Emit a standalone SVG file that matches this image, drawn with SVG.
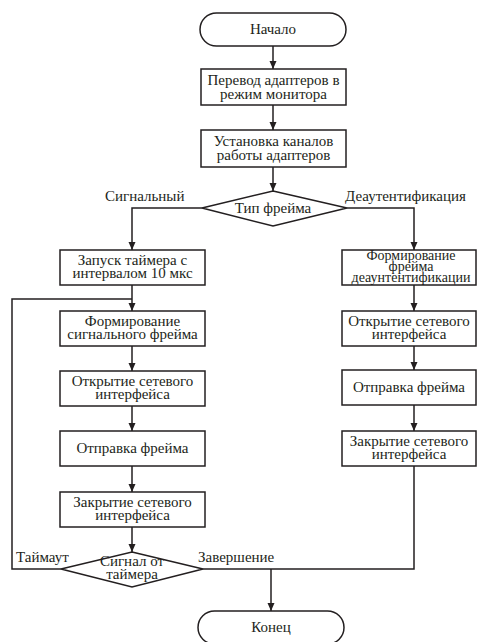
<svg xmlns="http://www.w3.org/2000/svg" width="477" height="642" viewBox="0 0 477 642">
<style>
.s{fill:#fff;stroke:#231f20;stroke-width:1.5}
.c{fill:none;stroke:#231f20;stroke-width:1.5}
text{font-family:"Liberation Serif","DejaVu Serif",serif;font-size:15px;fill:#231f20}
.m{text-anchor:middle}
.t{font-size:14px}
</style>
<defs>
<marker id="a" markerUnits="userSpaceOnUse" markerWidth="8" markerHeight="8" refX="8" refY="4" orient="auto">
<path d="M0,0.5 L8,4 L0,7.5 z" fill="#231f20"/>
</marker>
</defs>
<rect width="477" height="642" fill="#fff"/>
<g id="connectors">
<path class="c" d="M273,46 V69" marker-end="url(#a)"/>
<path class="c" d="M273,105 V130" marker-end="url(#a)"/>
<path class="c" d="M273,167 V191" marker-end="url(#a)"/>
<path class="c" d="M202,208 H132 V250" marker-end="url(#a)"/>
<path class="c" d="M347,208 H414 V250" marker-end="url(#a)"/>
<path class="c" d="M132,285 V311" marker-end="url(#a)"/>
<path class="c" d="M61,569 H12 V299 H132"/>
<path class="c" d="M132,346 V371" marker-end="url(#a)"/>
<path class="c" d="M132,406 V431" marker-end="url(#a)"/>
<path class="c" d="M132,466 V492" marker-end="url(#a)"/>
<path class="c" d="M132,527 V552" marker-end="url(#a)"/>
<path class="c" d="M414,285 V311" marker-end="url(#a)"/>
<path class="c" d="M414,346 V370" marker-end="url(#a)"/>
<path class="c" d="M414,405 V431" marker-end="url(#a)"/>
<path class="c" d="M414,466 V569 H203"/>
<path class="c" d="M271,569 V611" marker-end="url(#a)"/>
<text x="105" y="201">Сигнальный</text>
<text x="345" y="201">Деаутентификация</text>
<text x="16" y="562">Таймаут</text>
<text x="198" y="562">Завершение</text>
</g>
<g id="start">
<rect class="s" x="200" y="13" width="146" height="33" rx="16.5"/>
<text class="m" x="273" y="34">Начало</text>
</g>
<g id="monitor">
<rect class="s" x="201" y="69" width="145" height="36"/>
<text class="m" x="273.5" y="85">Перевод адаптеров в</text>
<text class="m" x="273.5" y="99">режим монитора</text>
</g>
<g id="channels">
<rect class="s" x="201" y="130" width="145" height="37"/>
<text class="m" x="273.5" y="146">Установка каналов</text>
<text class="m" x="273.5" y="160">работы адаптеров</text>
</g>
<g id="frametype">
<polygon class="s" points="273,191 347,208 273,226 202,208"/>
<text class="m" x="273" y="213">Тип фрейма</text>
</g>
<g id="timer">
<rect class="s" x="60" y="250" width="145" height="35"/>
<text class="m" x="132.5" y="265">Запуск таймера с</text>
<text class="m" x="132.5" y="278">интервалом 10 мкс</text>
</g>
<g id="signalframe">
<rect class="s" x="60" y="311" width="145" height="35"/>
<text class="m" x="132.5" y="326">Формирование</text>
<text class="m" x="132.5" y="339">сигнального фрейма</text>
</g>
<g id="open1">
<rect class="s" x="60" y="371" width="145" height="35"/>
<text class="m" x="132.5" y="386">Открытие сетевого</text>
<text class="m" x="132.5" y="399">интерфейса</text>
</g>
<g id="send1">
<rect class="s" x="60" y="431" width="145" height="35"/>
<text class="m" x="132.5" y="453">Отправка фрейма</text>
</g>
<g id="close1">
<rect class="s" x="60" y="492" width="145" height="35"/>
<text class="m" x="132.5" y="507">Закрытие сетевого</text>
<text class="m" x="132.5" y="520">интерфейса</text>
</g>
<g id="timersignal">
<polygon class="s" points="132,552 203,569 132,587 61,569"/>
<text class="m" x="132" y="566">Сигнал от</text>
<text class="m" x="132" y="579">таймера</text>
</g>
<g id="deauth">
<rect class="s" x="342" y="250" width="134" height="35"/>
<text class="m t" x="411" y="260">Формирование</text>
<text class="m t" x="411" y="271">фрейма</text>
<text class="m t" x="411" y="282">деаунтентификации</text>
</g>
<g id="open2">
<rect class="s" x="342" y="311" width="134" height="35"/>
<text class="m" x="409" y="326">Открытие сетевого</text>
<text class="m" x="409" y="339">интерфейса</text>
</g>
<g id="send2">
<rect class="s" x="342" y="370" width="134" height="35"/>
<text class="m" x="409" y="392">Отправка фрейма</text>
</g>
<g id="close2">
<rect class="s" x="342" y="431" width="134" height="35"/>
<text class="m" x="409" y="446">Закрытие сетевого</text>
<text class="m" x="409" y="459">интерфейса</text>
</g>
<g id="end">
<rect class="s" x="198" y="611" width="146" height="33" rx="16.5"/>
<text class="m" x="271" y="632">Конец</text>
</g>
</svg>
